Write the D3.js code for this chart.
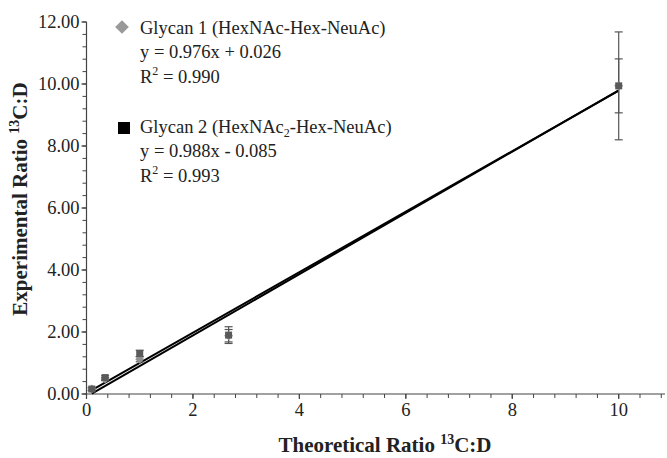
<!DOCTYPE html>
<html>
<head>
<meta charset="utf-8">
<script src="https://cdn.jsdelivr.net/npm/d3@7"></script>
<style>
  body { margin: 0; background: #fff; }
  text { font-family: "Liberation Serif", "Times New Roman", serif; fill: #222; }
</style>
</head>
<body>
<div id="chart"></div>
<script>
// Data.
const theoretical = [0.1, 0.35, 1, 2.67, 10];
const glycan1 = [0.16, 0.48, 1.12, 1.88, 9.94];
const glycan1Err = [0.05, 0.05, 0.08, 0.2, 1.74];
const glycan2 = [0.16, 0.53, 1.31, 1.9, 9.94];
const glycan2Err = [0.05, 0.06, 0.1, 0.27, 0.87];
const fits = [
  { slope: 0.976, icept: 0.026 },
  { slope: 0.988, icept: -0.085 },
];
const xTicks = [0, 2, 4, 6, 8, 10];
const yTicks = [0, 2, 4, 6, 8, 10, 12];

const width = 667,
  height = 458;

const svg = d3
  .select('#chart')
  .append('svg')
  .attr('width', width)
  .attr('height', height);

const x = d3.scaleLinear().domain([0, 10.87]).range([86.5, 665]);
const y = d3.scaleLinear().domain([0, 12]).range([394, 22]);

const axisColor = '#444';

// Minor ticks every 0.4 units
const xMinor = d3.range(0, 10.87, 0.4);
const yMinor = d3.range(0, 12.01, 0.4);

// x axis
const gx = svg.append('g').attr('transform', 'translate(0,' + y(0) + ')');
gx.append('line')
  .attr('x1', x(0) - 1)
  .attr('x2', x(10.87))
  .attr('stroke', axisColor)
  .attr('stroke-width', 1.2);
gx.selectAll('.minor')
  .data(xMinor)
  .join('line')
  .attr('x1', d => x(d))
  .attr('x2', d => x(d))
  .attr('y2', 4)
  .attr('stroke', axisColor);
gx.selectAll('.major')
  .data(xTicks)
  .join('line')
  .attr('x1', d => x(d))
  .attr('x2', d => x(d))
  .attr('y2', 5)
  .attr('stroke', axisColor)
  .attr('stroke-width', 1.2);
gx.selectAll('text')
  .data(xTicks)
  .join('text')
  .attr('x', d => x(d))
  .attr('y', 22)
  .attr('text-anchor', 'middle')
  .style('font-size', '18.5px')
  .text(d => d);

// y axis
const gy = svg.append('g').attr('transform', 'translate(' + x(0) + ',0)');
gy.append('line')
  .attr('y1', y(0))
  .attr('y2', y(12))
  .attr('stroke', axisColor)
  .attr('stroke-width', 1.2);
gy.selectAll('.minor')
  .data(yMinor)
  .join('line')
  .attr('y1', d => y(d))
  .attr('y2', d => y(d))
  .attr('x2', -4)
  .attr('stroke', axisColor);
gy.selectAll('.major')
  .data(yTicks)
  .join('line')
  .attr('y1', d => y(d))
  .attr('y2', d => y(d))
  .attr('x2', -5)
  .attr('stroke', axisColor)
  .attr('stroke-width', 1.2);
gy.selectAll('text')
  .data(yTicks)
  .join('text')
  .attr('x', -7)
  .attr('y', d => y(d) + 6)
  .attr('text-anchor', 'end')
  .style('font-size', '18.5px')
  .text(d => d3.format('.2f')(d));

// Axis titles
const xt = svg
  .append('text')
  .attr('x', 385)
  .attr('y', 452)
  .attr('text-anchor', 'middle')
  .style('font-size', '21px')
  .style('font-weight', 'bold');
xt.append('tspan').text('Theoretical Ratio ');
xt.append('tspan').attr('dy', -8).style('font-size', '14px').text('13');
xt.append('tspan').attr('dy', 8).text('C:D');

const yt = svg
  .append('text')
  .attr('transform', 'translate(27,199) rotate(-90)')
  .attr('text-anchor', 'middle')
  .style('font-size', '21px')
  .style('font-weight', 'bold');
yt.append('tspan').text('Experimental Ratio ');
yt.append('tspan').attr('dy', -8).style('font-size', '14px').text('13');
yt.append('tspan').attr('dy', 8).text('C:D');

// Regression lines
const line = d3
  .line()
  .x(d => x(d[0]))
  .y(d => y(d[1]));
fits.forEach(f => {
  svg
    .append('path')
    .datum([0.1, 10].map(v => [v, f.slope * v + f.icept]))
    .attr('d', line)
    .attr('fill', 'none')
    .attr('stroke', '#000')
    .attr('stroke-width', 2);
});

// Error bars
function errorBars(vals, errs, color, cap) {
  const g = svg.append('g').attr('stroke', color).attr('stroke-width', 1.2);
  vals.forEach((v, i) => {
    const cx = x(theoretical[i]);
    g.append('line')
      .attr('x1', cx).attr('x2', cx)
      .attr('y1', y(v - errs[i])).attr('y2', y(v + errs[i]));
    [v - errs[i], v + errs[i]].forEach(e => {
      g.append('line')
        .attr('x1', cx - cap).attr('x2', cx + cap)
        .attr('y1', y(e)).attr('y2', y(e));
    });
  });
}
errorBars(glycan1, glycan1Err, '#555', 4);
errorBars(glycan2, glycan2Err, '#555', 4);

// Markers
const diamond = d3.symbol().type(d3.symbolDiamond2).size(50);
svg
  .selectAll('.g1')
  .data(theoretical)
  .join('path')
  .attr('class', 'g1')
  .attr('transform', (d, i) => 'translate(' + x(d) + ',' + y(glycan1[i]) + ')')
  .attr('d', diamond)
  .attr('fill', '#8f8f8f');
svg
  .selectAll('.g2')
  .data(theoretical)
  .join('rect')
  .attr('class', 'g2')
  .attr('x', d => x(d) - 3.5)
  .attr('y', (d, i) => y(glycan2[i]) - 3.5)
  .attr('width', 7)
  .attr('height', 7)
  .attr('fill', '#5a5a5a');

// Legend
svg
  .append('path')
  .attr('transform', 'translate(122,27)')
  .attr('d', d3.symbol().type(d3.symbolDiamond2).size(120))
  .attr('fill', '#999');
svg
  .append('rect')
  .attr('x', 118)
  .attr('y', 122)
  .attr('width', 12)
  .attr('height', 12)
  .attr('fill', '#000');

const legend = svg.append('g').style('font-size', '18.5px');
legend.append('text').attr('x', 140).attr('y', 34).text('Glycan 1 (HexNAc-Hex-NeuAc)');
legend.append('text').attr('x', 140).attr('y', 58).text('y = 0.976x + 0.026');
const r1 = legend.append('text').attr('x', 140).attr('y', 83);
r1.append('tspan').text('R');
r1.append('tspan').attr('dy', -8).style('font-size', '12px').text('2');
r1.append('tspan').attr('dy', 8).text(' = 0.990');

const g2 = legend.append('text').attr('x', 140).attr('y', 133);
g2.append('tspan').text('Glycan 2 (HexNAc');
g2.append('tspan').attr('dy', 4).style('font-size', '12px').text('2');
g2.append('tspan').attr('dy', -4).text('-Hex-NeuAc)');
legend.append('text').attr('x', 140).attr('y', 157).text('y = 0.988x - 0.085');
const r2 = legend.append('text').attr('x', 140).attr('y', 182);
r2.append('tspan').text('R');
r2.append('tspan').attr('dy', -8).style('font-size', '12px').text('2');
r2.append('tspan').attr('dy', 8).text(' = 0.993');
</script>
</body>
</html>
